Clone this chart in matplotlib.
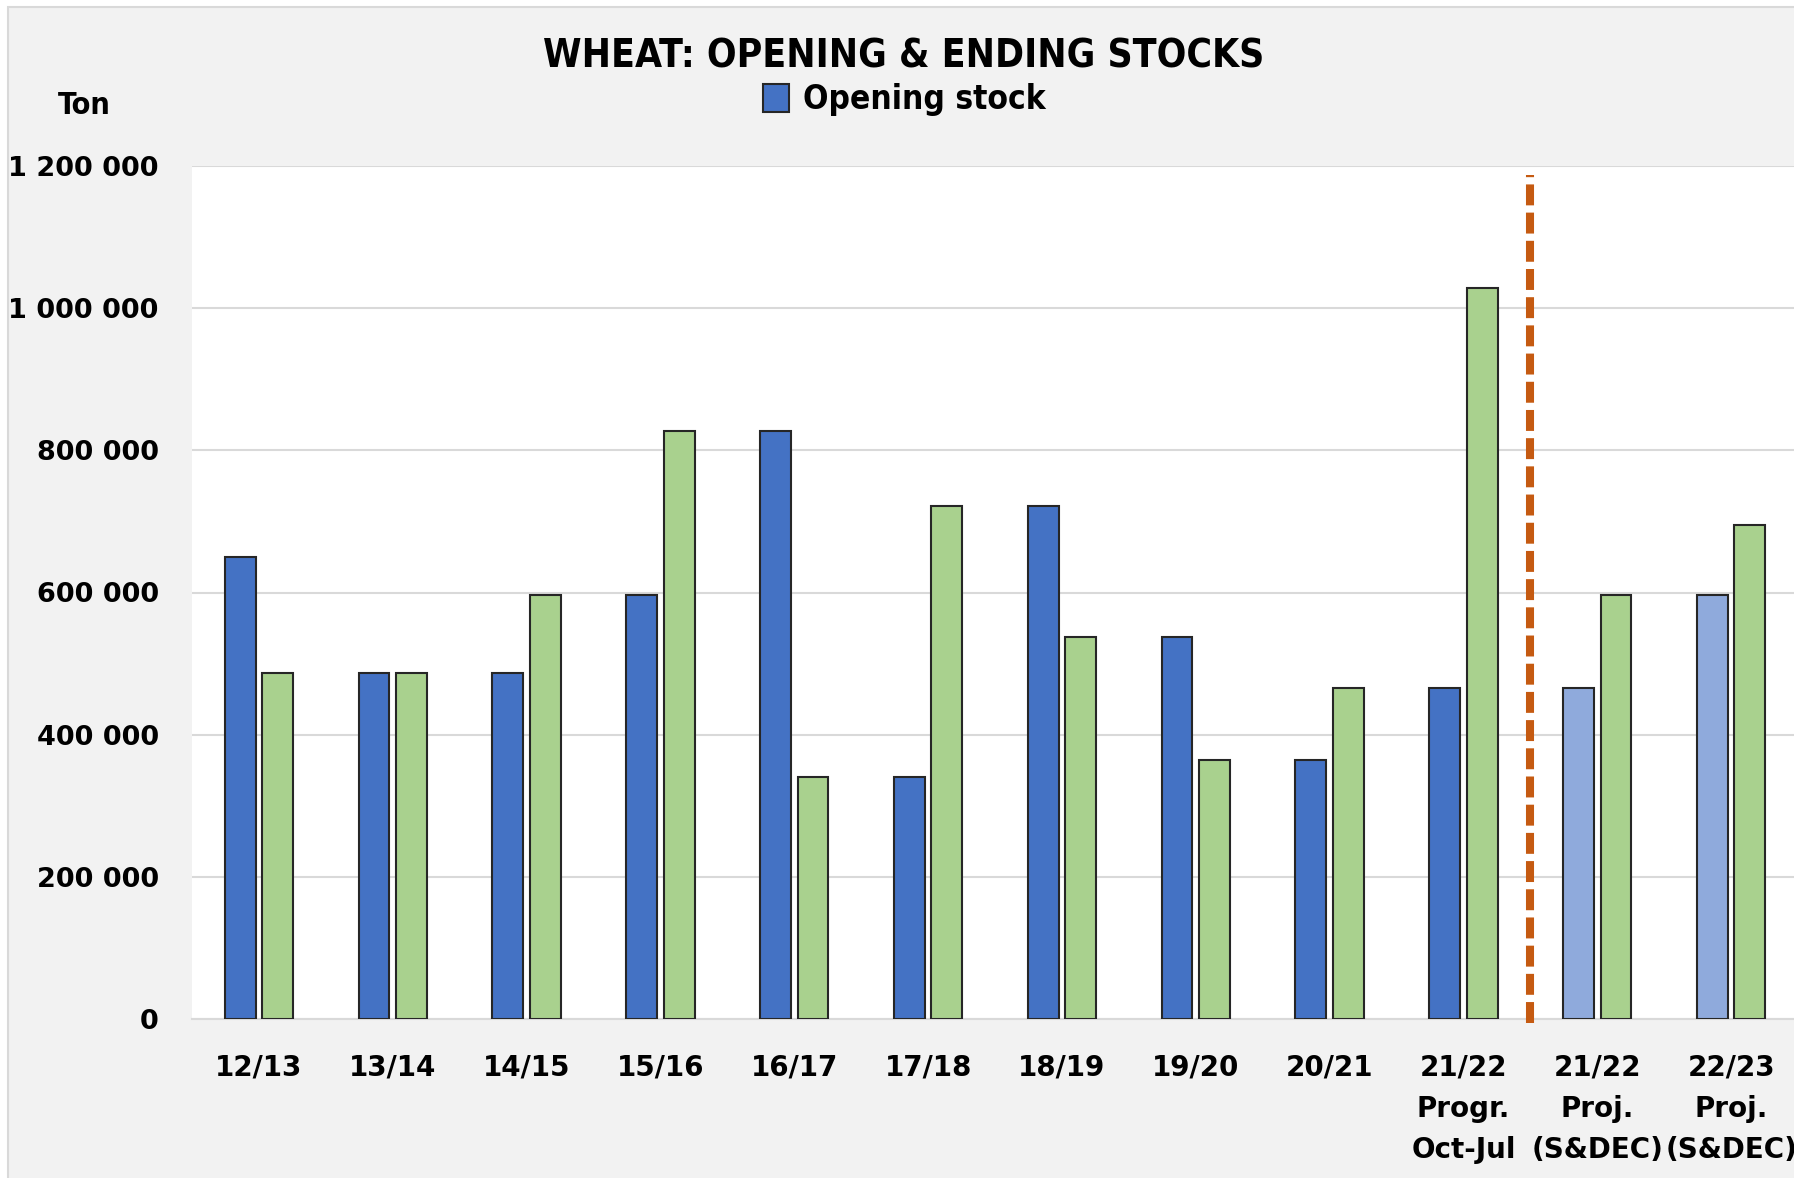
import matplotlib.pyplot as plt
from matplotlib.patches import Rectangle, Patch
from matplotlib.ticker import FuncFormatter

W, H = 1794, 1178

seasons = ['12/13', '13/14', '14/15', '15/16', '16/17', '17/18', '18/19',
           '19/20', '20/21', '21/22\nProgr.\nOct-Jul',
           '21/22\nProj.\n(S&DEC)', '22/23\nProj.\n(S&DEC)']
opening = [650000, 487000, 487000, 597000, 827000, 341000, 721000,
           537000, 364000, 465000, 465000, 597000]
ending = [487000, 487000, 597000, 827000, 341000, 721000, 537000,
          364000, 465000, 1028000, 597000, 695000]
n_actual = 10  # seasons before the projection split

BLUE = '#4472C4'
LIGHT_BLUE = '#8FAADC'
GREEN = '#A9D18E'
EDGE = '#262626'

fig = plt.figure(figsize=(W / 100, H / 100), dpi=100, facecolor='white')
fig.patches.append(Rectangle((8 / W, -0.1), 1.2, 1.1 - 7 / H,
                             transform=fig.transFigure, facecolor='#F2F2F2',
                             edgecolor='#D9D9D9', linewidth=1.5, zorder=-10))

ax = fig.add_axes([192 / W, (H - 1019) / H, 1606 / W, 853 / H])
ax.set_facecolor('white')

x = list(range(len(seasons)))
open_colors = [BLUE if i < n_actual else LIGHT_BLUE for i in x]
ax.bar([i - 0.14 for i in x], opening, width=0.23, color=open_colors,
       edgecolor=EDGE, linewidth=1.5, zorder=3)
ax.bar([i + 0.14 for i in x], ending, width=0.23, color=GREEN,
       edgecolor=EDGE, linewidth=1.5, zorder=3)

ax.axvline(n_actual - 0.5, ymin=-0.005, ymax=0.99, color='#C55A11',
           linewidth=5.8, dashes=(2.6, 0.9), dash_capstyle='butt',
           clip_on=False, zorder=4)

ax.set_xlim(-0.5, len(seasons) - 0.5)
ax.set_ylim(0, 1200000)
ax.set_yticks(range(0, 1200001, 200000))
ax.yaxis.set_major_formatter(FuncFormatter(lambda v, p: f'{int(v):,}'.replace(',', ' ')))
ax.set_xticks(x)
ax.set_xticklabels(seasons, linespacing=1.6)
ax.grid(axis='y', color='#D9D9D9', linewidth=1.5, zorder=0)
for s in ['top', 'right', 'left']:
    ax.spines[s].set_visible(False)
ax.spines['bottom'].set_color('#D9D9D9')
ax.spines['bottom'].set_linewidth(1.5)
ax.tick_params(axis='both', length=0)
ax.tick_params(axis='y', pad=24, labelsize=19.5)
ax.tick_params(axis='x', pad=25, labelsize=20)
for lab in ax.get_xticklabels() + ax.get_yticklabels():
    lab.set_fontweight('bold')

fig.text(904 / W, 1 - 56 / H, 'WHEAT: OPENING & ENDING STOCKS',
         fontsize=28, fontweight='bold', fontstretch='condensed',
         ha='center', va='center')
fig.text(84 / W, 1 - 105 / H, 'Ton', fontsize=22, fontweight='bold',
         fontstretch='condensed', ha='center', va='center')
fig.legend(handles=[Patch(facecolor=BLUE, edgecolor=EDGE, linewidth=1.5)],
           labels=['Opening stock'], loc='center', bbox_to_anchor=(904 / W, 1 - 100 / H),
           frameon=False, prop={'size': 24, 'weight': 'bold', 'stretch': 'condensed'},
           handlelength=0.8, handleheight=0.9, handletextpad=0.4)

fig.savefig('out.png', dpi=100, facecolor=fig.get_facecolor())
